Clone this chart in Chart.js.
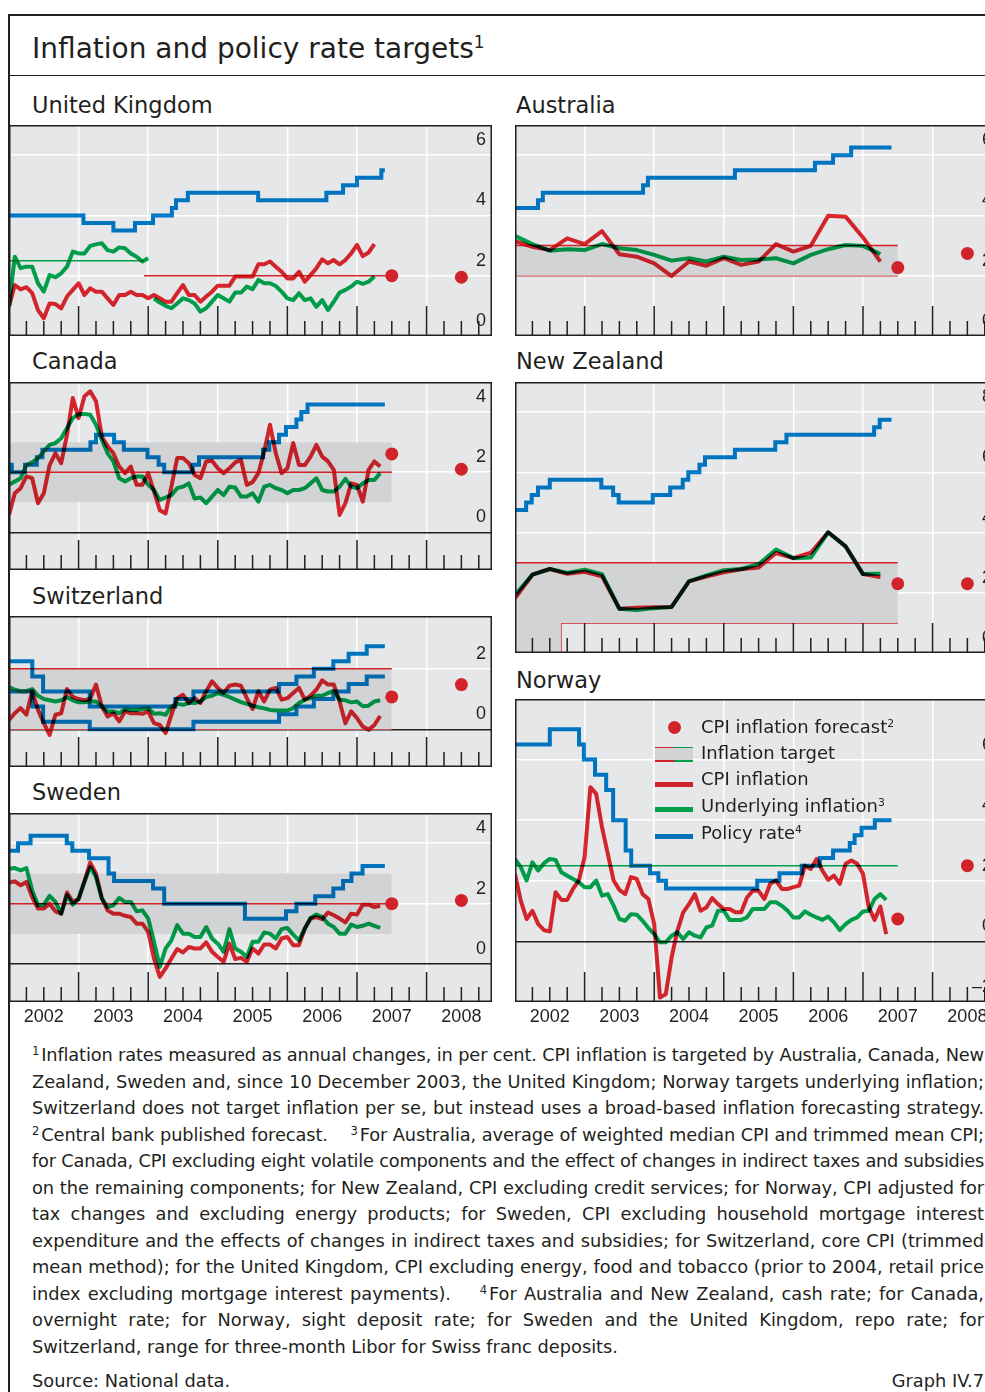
<!DOCTYPE html>
<html>
<head>
<meta charset="utf-8">
<title>Inflation and policy rate targets</title>
<script src="https://cdn.jsdelivr.net/npm/chart.js@4.4.1/dist/chart.umd.min.js"></script>
<style>
  html, body { margin: 0; padding: 0; background: #fff; }
  #page { position: relative; width: 985px; height: 1392px; overflow: hidden; color: #231f20; font-family: "DejaVu Sans", sans-serif; }
  .abs { position: absolute; white-space: nowrap; }
  .rule { position: absolute; background: #231f20; }
  .title { left: 32px; top: 32px; font-size: 28px; line-height: 34px; }
  .ptitle { font-size: 22.5px; line-height: 28px; }
  .panel { position: absolute; width: 483px; }
  sup { font-size: 0.6em; line-height: 0; vertical-align: 0.6em; }
  .leg { font-size: 18px; line-height: 26px; }
  .sw { position: absolute; }
  .fn { position: absolute; left: 32px; width: 952px; font-size: 17.8px; line-height: 26px; white-space: nowrap; text-align: justify; text-align-last: justify; }
  .fn.last { text-align-last: left; }
  .fn sup { font-size: 0.65em; vertical-align: 0.5em; margin-right: 2px; }
</style>
</head>
<body>
<div id="page">
  <div class="rule" style="left:8px;top:14px;width:990px;height:1.5px"></div>
  <div class="rule" style="left:8px;top:14px;width:1.5px;height:1390px"></div>
  <div class="rule" style="left:8px;top:74.5px;width:990px;height:1.5px"></div>
  <div class="abs title">Inflation and policy rate targets<sup>1</sup></div>

  <div class="abs ptitle" style="left:32px;top:91px">United Kingdom</div>
  <div class="abs ptitle" style="left:32px;top:347px">Canada</div>
  <div class="abs ptitle" style="left:32px;top:582px">Switzerland</div>
  <div class="abs ptitle" style="left:32px;top:778px">Sweden</div>
  <div class="abs ptitle" style="left:516px;top:91px">Australia</div>
  <div class="abs ptitle" style="left:516px;top:347px">New Zealand</div>
  <div class="abs ptitle" style="left:516px;top:666px">Norway</div>

  <div class="panel" style="left:9px;top:125px;height:211px"><canvas id="uk"></canvas></div>
  <div class="panel" style="left:9px;top:382px;height:188px"><canvas id="ca"></canvas></div>
  <div class="panel" style="left:9px;top:616px;height:151px"><canvas id="ch"></canvas></div>
  <div class="panel" style="left:9px;top:813px;height:217px"><canvas id="se"></canvas></div>
  <div class="panel" style="left:515px;top:125px;height:211px"><canvas id="au"></canvas></div>
  <div class="panel" style="left:515px;top:382px;height:271px"><canvas id="nz"></canvas></div>
  <div class="panel" style="left:515px;top:699px;height:331px"><canvas id="no"></canvas></div>

  <!-- legend (Norway panel) -->
  <div class="sw" style="left:667.5px;top:720.5px;width:13px;height:13px;border-radius:50%;background:#d2232a"></div>
  <div class="abs leg" style="left:701px;top:714px">CPI inflation forecast<sup>2</sup></div>
  <div class="sw" style="left:655px;top:747px;width:38px;height:14px;background:#d1d3d4"></div>
  <div class="sw" style="left:655px;top:746.5px;width:19px;height:1.5px;background:#d2232a"></div>
  <div class="sw" style="left:674px;top:746.5px;width:19px;height:1.5px;background:#00a04b"></div>
  <div class="sw" style="left:655px;top:760px;width:19px;height:1.5px;background:#d2232a"></div>
  <div class="sw" style="left:674px;top:760px;width:19px;height:1.5px;background:#00a04b"></div>
  <div class="abs leg" style="left:701px;top:740px">Inflation target</div>
  <div class="sw" style="left:655px;top:781.5px;width:38px;height:5px;background:#d2232a"></div>
  <div class="abs leg" style="left:701px;top:766px">CPI inflation</div>
  <div class="sw" style="left:655px;top:807px;width:38px;height:5px;background:#00a04b"></div>
  <div class="abs leg" style="left:701px;top:793px">Underlying inflation<sup>3</sup></div>
  <div class="sw" style="left:655px;top:834px;width:38px;height:5px;background:#0072bc"></div>
  <div class="abs leg" style="left:701px;top:820px">Policy rate<sup>4</sup></div>

  <!-- footnotes -->
  <div class="fn" style="top:1042px"><sup>1</sup>Inflation rates measured as annual changes, in per cent. CPI inflation is targeted by Australia, Canada, New</div>
  <div class="fn" style="top:1069px">Zealand, Sweden and, since 10 December 2003, the United Kingdom; Norway targets underlying inflation;</div>
  <div class="fn" style="top:1095px">Switzerland does not target inflation per se, but instead uses a broad-based inflation forecasting strategy.</div>
  <div class="fn" style="top:1122px"><sup>2</sup>Central bank published forecast.&nbsp;&nbsp;&nbsp;&nbsp;<sup>3</sup>For Australia, average of weighted median CPI and trimmed mean CPI;</div>
  <div class="fn" style="top:1148px">for Canada, CPI excluding eight volatile components and the effect of changes in indirect taxes and subsidies</div>
  <div class="fn" style="top:1175px">on the remaining components; for New Zealand, CPI excluding credit services; for Norway, CPI adjusted for</div>
  <div class="fn" style="top:1201px">tax changes and excluding energy products; for Sweden, CPI excluding household mortgage interest</div>
  <div class="fn" style="top:1228px">expenditure and the effects of changes in indirect taxes and subsidies; for Switzerland, core CPI (trimmed</div>
  <div class="fn" style="top:1254px">mean method); for the United Kingdom, CPI excluding energy, food and tobacco (prior to 2004, retail price</div>
  <div class="fn" style="top:1281px">index excluding mortgage interest payments).&nbsp;&nbsp;&nbsp;&nbsp;<sup>4</sup>For Australia and New Zealand, cash rate; for Canada,</div>
  <div class="fn" style="top:1307px">overnight rate; for Norway, sight deposit rate; for Sweden and the United Kingdom, repo rate; for</div>
  <div class="fn last" style="top:1334px">Switzerland, range for three-month Libor for Swiss franc deposits.</div>
  <div class="fn last" style="top:1368px">Source: National data.</div>
  <div class="abs" style="right:1px;top:1368px;font-size:17.8px;line-height:26px">Graph IV.7</div>
</div>

<script>
// ---------- data ----------
var forecastDates = [2007.5, 2008.5];
var targetStart = 2002, targetEnd = 2007.5;

// United Kingdom
var ukRateDates = [2002, 2003.07, 2003.5, 2003.81, 2004.07, 2004.34, 2004.40, 2004.57, 2005.58, 2006.56, 2006.8, 2007.0, 2007.35, 2007.4];
var ukRates = [4.0, 3.75, 3.5, 3.75, 4.0, 4.25, 4.5, 4.75, 4.5, 4.75, 5.0, 5.25, 5.5, 5.5];
var ukCpi = [0.97, 1.69, 1.55, 1.62, 1.42, 0.86, 0.59, 1.08, 1.06, 0.92, 1.31, 1.53, 1.75, 1.36, 1.58, 1.47, 1.47, 1.25, 1.03, 1.36,
  1.36, 1.47, 1.36, 1.36, 1.25, 1.36, 1.25, 1.14, 1.14, 1.42, 1.69, 1.36, 1.36, 1.14, 1.31, 1.47, 1.67, 1.67, 1.67, 1.97,
  1.97, 1.97, 1.97, 2.38, 2.38, 2.47, 2.30, 2.13, 1.91, 1.91, 2.13, 1.80, 2.02, 2.25, 2.54, 2.41, 2.52, 2.38, 2.52, 2.74,
  3.02, 2.65, 2.77, 3.05];
var ukRpix = [1.0, 2.63, 2.25, 2.30, 2.30, 1.75, 1.47, 2.02, 1.95, 2.08, 2.30, 2.80, 2.74, 2.74, 2.99, 3.04, 3.08, 2.85, 2.80, 2.94,
  2.91, 2.74, 2.63, 2.47, 2.58];
var ukCoreStart = 2004 + 1 / 12;
var ukCore = [1.25, 1.11, 1.0, 0.92, 1.08, 1.25, 1.19, 1.08, 0.81, 0.92, 1.14, 1.36, 1.25, 1.14, 1.44, 1.44, 1.64, 1.55, 1.86, 1.75,
  1.75, 1.66, 1.47, 1.25, 1.19, 1.42, 1.19, 1.25, 0.97, 1.19, 0.86, 1.14, 1.44, 1.53, 1.64, 1.80, 1.73, 1.80, 1.97];
var ukTargetSwitch = 2003.94;
var ukForecast = [2.0, 1.95];
var ukTicks = [0, 2, 4, 6];

// Canada
var caRateDates = [2002, 2002.04, 2002.23, 2002.40, 2002.48, 2003.17, 2003.25, 2003.51, 2003.65, 2003.99, 2004.15, 2004.23,
  2004.64, 2004.73, 2005.65, 2005.74, 2005.88, 2005.98, 2006.13, 2006.20, 2006.29, 2007.40];
var caRates = [2.25, 2.0, 2.25, 2.5, 2.75, 3.0, 3.25, 3.0, 2.75, 2.5, 2.25, 2.0, 2.25, 2.5, 2.75, 3.0, 3.25, 3.5, 3.75, 4.0, 4.25, 4.25];
var caCpi = [0.58, 1.30, 1.47, 1.86, 1.80, 0.97, 1.30, 2.24, 2.63, 2.30, 3.24, 4.47, 3.80, 4.52, 4.69, 4.36, 3.19, 2.86, 2.63, 2.19,
  1.97, 2.19, 1.58, 1.58, 1.97, 1.36, 0.74, 0.63, 1.52, 2.47, 2.47, 2.30, 1.91, 1.80, 2.36, 2.38, 2.13, 1.97, 2.13, 2.33,
  2.41, 1.58, 1.67, 1.97, 2.69, 3.58, 2.63, 1.97, 2.13, 2.97, 2.24, 2.24, 2.52, 2.91, 2.52, 2.36, 2.08, 0.58, 0.97, 1.63,
  1.58, 1.02, 2.08, 2.36, 2.19];
var caCore = [1.58, 1.69, 1.80, 2.24, 2.33, 2.47, 2.69, 2.91, 2.97, 3.13, 3.47, 3.80, 3.93, 3.94, 3.91, 3.58, 3.08, 2.63, 2.36, 1.80,
  1.69, 1.80, 1.86, 1.86, 1.58, 1.41, 1.08, 1.16, 1.24, 1.47, 1.52, 1.63, 1.13, 1.16, 0.97, 1.19, 1.41, 1.24, 1.52, 1.49,
  1.19, 1.19, 1.30, 1.02, 1.52, 1.58, 1.47, 1.41, 1.30, 1.41, 1.41, 1.47, 1.63, 1.80, 1.41, 1.36, 1.36, 1.52, 1.78, 1.52,
  1.47, 1.63, 1.74, 1.74, 1.97];
var caForecast = [2.61, 2.1];
var caTicks = [0, 2, 4];

// Switzerland
var chRateDates = [2002, 2002.335, 2002.49, 2003.16, 2004.39, 2004.65, 2005.88, 2006.13, 2006.38, 2006.66, 2006.88, 2007.14, 2007.40];
var chUpper = [2.25, 1.75, 1.25, 0.75, 1.0, 1.25, 1.5, 1.75, 2.0, 2.25, 2.5, 2.75, 2.75];
var chLower = [1.25, 0.75, 0.25, 0.0, 0.0, 0.25, 0.5, 0.75, 1.0, 1.25, 1.5, 1.75, 1.75];
var chCpi = [0.31, 0.53, 0.70, 0.48, 1.26, 0.64, 0.2, -0.19, 0.48, 0.53, 1.33, 1.07, 1.0, 0.96, 1.0, 1.48, 0.76, 0.42, 0.53, 0.26,
  0.59, 0.53, 0.53, 0.51, 0.59, 0.2, 0.14, -0.13, 0.48, 1.03, 1.14, 0.87, 1.03, 0.87, 1.26, 1.59, 1.37, 1.2, 1.44, 1.48,
  1.44, 1.03, 0.67, 1.26, 0.92, 1.31, 1.37, 0.98, 1.03, 1.2, 1.37, 0.98, 1.11, 1.31, 1.62, 1.48, 1.48, 0.92, 0.2, 0.59,
  0.37, 0.09, -0.02, 0.14, 0.44];
var chCore = [1.4, 1.31, 1.26, 1.26, 1.33, 1.11, 1.0, 0.96, 0.92, 0.96, 1.07, 0.96, 0.89, 0.89, 0.92, 0.92, 0.76, 0.59, 0.59, 0.53,
  0.67, 0.64, 0.64, 0.67, 0.70, 0.51, 0.53, 0.48, 0.76, 0.84, 0.81, 0.87, 0.87, 0.92, 1.07, 1.11, 1.2, 1.14, 1.07, 0.98,
  0.9, 0.84, 0.78, 0.73, 0.69, 0.64, 0.62, 0.62, 0.62, 0.70, 0.87, 0.98, 1.03, 1.11, 1.11, 1.2, 1.26, 0.98, 0.96, 0.89,
  0.92, 0.76, 0.78, 0.92, 0.96];
var chForecast = [1.07, 1.48];
var chTicks = [0, 2];

// Sweden
var seRateDates = [2002, 2002.13, 2002.31, 2002.83, 2002.91, 2003.15, 2003.43, 2003.51, 2004.07, 2004.23, 2005.39, 2005.98,
  2006.13, 2006.40, 2006.66, 2006.80, 2006.92, 2007.08, 2007.40];
var seRates = [3.75, 4.0, 4.25, 4.0, 3.75, 3.5, 3.0, 2.75, 2.5, 2.0, 1.5, 1.75, 2.0, 2.25, 2.5, 2.75, 3.0, 3.25, 3.25];
var seCpi = [2.70, 2.74, 2.61, 2.72, 2.22, 1.84, 1.84, 2.0, 1.75, 1.67, 2.37, 2.06, 2.15, 2.74, 3.36, 2.99, 2.19, 1.78, 1.67, 1.67,
  1.60, 1.56, 1.34, 1.34, 1.07, 0.19, -0.42, -0.14, 0.19, 0.5, 0.39, 0.57, 0.52, 0.52, 0.72, 0.41, 0.24, 0.08, 0.68, 0.17,
  0.21, 0.08, 0.52, 0.35, 0.65, 0.65, 0.52, 0.85, 0.9, 0.63, 0.63, 1.18, 1.51, 1.56, 1.49, 1.71, 1.62, 1.51, 1.38, 1.67,
  1.64, 1.97, 1.97, 1.89, 1.93];
var seCore = [3.16, 3.18, 3.10, 3.18, 2.44, 1.95, 1.97, 2.26, 2.06, 1.67, 2.28, 1.97, 2.17, 2.72, 3.21, 2.88, 2.17, 1.89, 1.95, 2.19,
  2.06, 2.06, 1.75, 1.78, 1.51, 0.74, -0.09, 0.52, 0.79, 1.29, 1.01, 1.01, 0.9, 0.9, 1.23, 0.85, 0.68, 0.41, 1.16, 0.52,
  0.41, 0.24, 0.74, 0.74, 1.05, 1.01, 0.85, 1.16, 1.2, 0.98, 0.79, 1.18, 1.53, 1.64, 1.56, 1.34, 1.23, 1.01, 1.01, 1.31,
  1.23, 1.27, 1.34, 1.27, 1.2];
var seForecast = [2.0, 2.11];
var seTicks = [0, 2, 4];

// Australia (quarterly)
var auRateDates = [2002, 2002.33, 2002.40, 2003.84, 2003.91, 2005.16, 2006.31, 2006.57, 2006.83, 2007.41];
var auRates = [4.25, 4.5, 4.75, 5.0, 5.25, 5.5, 5.75, 6.0, 6.25, 6.25];
var auCpi = [3.15, 2.96, 2.85, 3.24, 3.05, 3.48, 2.71, 2.63, 2.41, 1.99, 2.47, 2.33, 2.58, 2.36, 2.47, 3.05, 2.80, 2.99, 3.99, 3.96, 3.27, 2.47];
var auCore = [3.32, 3.05, 2.83, 2.88, 2.85, 3.05, 2.91, 2.85, 2.69, 2.50, 2.58, 2.47, 2.63, 2.52, 2.54, 2.58, 2.41, 2.69, 2.88, 3.02, 2.99, 2.72];
var auForecast = [2.27, 2.74];
var auTicks = [0, 2, 4, 6];

// New Zealand (quarterly)
var nzRateDates = [2002, 2002.16, 2002.24, 2002.33, 2002.50, 2003.24, 2003.41, 2003.49, 2003.98, 2004.23, 2004.41, 2004.49,
  2004.65, 2004.73, 2005.16, 2005.74, 2005.90, 2007.16, 2007.24, 2007.41];
var nzRates = [4.75, 5.0, 5.25, 5.5, 5.75, 5.5, 5.25, 5.0, 5.25, 5.5, 5.75, 6.0, 6.25, 6.5, 6.75, 7.0, 7.25, 7.5, 7.75, 7.75];
var nzCpi = [1.82, 2.60, 2.79, 2.63, 2.70, 2.55, 1.47, 1.50, 1.52, 1.53, 2.38, 2.54, 2.68, 2.78, 2.84, 3.32, 3.15, 3.33, 4.01, 3.54, 2.62, 2.52];
var nzCore = [1.93, 2.60, 2.79, 2.66, 2.77, 2.62, 1.47, 1.43, 1.49, 1.53, 2.38, 2.58, 2.75, 2.79, 2.95, 3.44, 3.15, 3.17, 4.01, 3.54, 2.62, 2.63];
var nzBandDates = [2002, 2002.66, 2007.5];
var nzBandLow = [0, 1, 1];
var nzBandHigh = [3, 3, 3];
var nzForecast = [2.30, 2.30];
var nzTicks = [0, 2, 4, 6, 8];

// Norway
var noRateDates = [2002, 2002.50, 2002.92, 2002.99, 2003.15, 2003.31, 2003.41, 2003.59, 2003.67, 2003.94, 2004.06, 2004.17,
  2005.48, 2005.80, 2006.12, 2006.38, 2006.57, 2006.81, 2006.88, 2006.98, 2007.17, 2007.41];
var noRates = [6.5, 7.0, 6.5, 6.0, 5.5, 5.0, 4.0, 3.0, 2.5, 2.25, 2.0, 1.75, 2.0, 2.25, 2.5, 2.75, 3.0, 3.25, 3.5, 3.75, 4.0, 4.0];
var noCpi = [2.23, 1.34, 0.74, 1.01, 0.57, 0.37, 0.33, 1.62, 1.37, 1.37, 1.73, 2.01, 2.78, 5.09, 4.87, 3.77, 2.89, 2.01, 1.70, 1.56,
  2.12, 2.06, 1.56, 1.40, 0.57, -1.85, -1.74, -0.53, 0.35, 0.96, 1.23, 1.56, 1.01, 1.12, 1.43, 1.23, 1.07, 1.07, 0.96, 0.96,
  1.45, 1.67, 1.67, 1.40, 1.90, 2.01, 1.73, 1.73, 1.79, 1.84, 2.50, 2.39, 2.72, 2.34, 2.03, 2.17, 1.90, 2.56, 2.67, 2.56,
  2.23, 1.12, 0.71, 1.15, 0.24];
var noCore = [2.72, 2.45, 2.01, 2.61, 2.34, 2.58, 2.72, 2.69, 2.28, 2.17, 2.06, 1.95, 1.79, 1.79, 2.01, 1.51, 1.56, 1.18, 0.74, 0.68,
  0.90, 0.88, 0.68, 0.44, 0.24, -0.03, -0.03, 0.19, 0.30, 0.08, 0.30, 0.19, 0.13, 0.46, 0.52, 1.01, 1.01, 0.71, 0.71, 0.71,
  0.79, 1.07, 1.07, 1.07, 1.29, 1.29, 1.18, 1.01, 0.79, 0.79, 0.99, 0.88, 0.79, 0.71, 0.82, 0.63, 0.37, 0.57, 0.71, 0.79,
  0.99, 1.01, 1.40, 1.56, 1.37];
var noForecast = [0.74, 2.5];
var noTicks = [-2, 0, 2, 4, 6];

// quarter ticks on the time axis, 2002 to 2008
var xTickValues = [];
for (var q = 0; q < 28; q++) xTickValues.push(2002 + q / 4);

// ---------- styles ----------
var INK = '#231f20', BG = '#e6e7e8', BAND = '#d1d3d4';
var RED = '#e9272f', GREEN = '#00ac50', BLUE = '#007fd1';   // lines are multiplied onto the grey
var RED_T = '#d2232a', GREEN_T = '#00a04b', DOT = '#d2232a';
var NUM_FONT = {family: 'Liberation Sans, Arial, sans-serif', size: 18};

Chart.defaults.elements.point.radius = 0;

function monthly(start, vals) { return vals.map(function (v, i) { return {x: start + i / 12, y: v}; }); }
function quarterly(start, vals) { return vals.map(function (v, i) { return {x: start + i / 4, y: v}; }); }
function pairs(xs, ys) { return xs.map(function (x, i) { return {x: x, y: ys[i]}; }); }
function flat(x0, x1, v) { return [{x: x0, y: v}, {x: x1, y: v}]; }

function rateSet(data) {
  return {data: data, borderColor: BLUE, borderWidth: 4, stepped: true, blend: true, order: 1, borderJoinStyle: 'miter'};
}
function lineSet(data, color) {
  return {data: data, borderColor: color, borderWidth: 4, blend: true, order: 2, borderJoinStyle: 'round'};
}
function targetSet(data, color) {
  return {data: data, borderColor: color, borderWidth: 1.5, order: 5};
}
function bandSets(hi, lo, edge, steppedLow) {
  return [
    {data: hi, borderColor: edge, borderWidth: 1.5, fill: '+1', backgroundColor: BAND, order: 6},
    {data: lo, borderColor: edge, borderWidth: 1.5, stepped: !!steppedLow, order: 6}
  ];
}
function dotSet(vals) {
  return {data: pairs(forecastDates, vals), showLine: false, pointRadius: 6.5, pointBackgroundColor: DOT, pointBorderWidth: 0, order: 0};
}

var panelPlugin = {
  id: 'panel',
  beforeDraw: function (chart) {
    var a = chart.chartArea, ctx = chart.ctx;
    ctx.save();
    ctx.fillStyle = BG;
    ctx.fillRect(a.left, a.top, a.width, a.height);
    ctx.restore();
  },
  beforeDatasetDraw: function (chart, args) {
    if (chart.data.datasets[args.index].blend) {
      chart.ctx.save();
      chart.ctx.globalCompositeOperation = 'multiply';
    }
  },
  afterDatasetDraw: function (chart, args) {
    if (chart.data.datasets[args.index].blend) chart.ctx.restore();
  },
  afterDraw: function (chart) {
    var a = chart.chartArea, ctx = chart.ctx, xs = chart.scales.x;
    ctx.save();
    ctx.strokeStyle = INK;
    ctx.lineWidth = 1.5;
    ctx.beginPath();
    xTickValues.forEach(function (v) {
      if (v <= 2002) return;
      var px = xs.getPixelForValue(v);
      var len = v % 1 === 0 ? 30 : 15;
      ctx.moveTo(px, a.bottom);
      ctx.lineTo(px, a.bottom - len);
    });
    ctx.stroke();
    ctx.strokeRect(a.left + 0.75, a.top + 0.75, a.width - 1.5, a.height - 1.5);
    ctx.restore();
  }
};

function makePanel(id, p) {
  return new Chart(document.getElementById(id), {
    type: 'line',
    data: {datasets: p.datasets},
    options: {
      responsive: true,
      maintainAspectRatio: false,
      animation: false,
      events: [],
      layout: {padding: 0, autoPadding: false},
      plugins: {legend: {display: false}, tooltip: {enabled: false}},
      scales: {
        x: {
          type: 'linear', min: 2002, max: 2008.94,
          afterBuildTicks: function (s) { s.ticks = xTickValues.map(function (v) { return {value: v}; }); },
          afterFit: function (s) { s.height = p.years ? 28 : 0; s.paddingLeft = 0; s.paddingRight = 0; },
          border: {display: false},
          grid: {
            drawTicks: false, lineWidth: 1.5,
            color: function (c) { return c.tick && Number.isInteger(c.tick.value) ? '#ffffff' : 'rgba(0,0,0,0)'; }
          },
          ticks: {
            display: !!p.years, autoSkip: false, maxRotation: 0, padding: 4, color: INK, font: NUM_FONT,
            callback: function (v) { return v % 1 === 0.5 ? String(Math.floor(v)) : ''; }
          }
        },
        y: {
          type: 'linear', position: 'right', min: p.min, max: p.max,
          afterBuildTicks: function (s) { s.ticks = p.ticks.map(function (v) { return {value: v}; }); },
          afterFit: function (s) { s.width = 0; s.paddingTop = 0; s.paddingBottom = 0; },
          border: {display: false},
          grid: {
            drawTicks: false, lineWidth: 1.5,
            color: function (c) { return c.tick && c.tick.value === 0 ? INK : '#ffffff'; }
          },
          ticks: {
            mirror: true, padding: -6, labelOffset: -15, color: INK, font: NUM_FONT,
            callback: function (v) { return v < 0 ? '\u2013' + Math.abs(v) : String(v); }
          }
        }
      }
    },
    plugins: [panelPlugin]
  });
}

// ---------- panels ----------
makePanel('uk', {
  min: 0, max: 7, ticks: ukTicks,
  datasets: [
    targetSet(flat(targetStart, ukTargetSwitch, 2.5), GREEN_T),
    targetSet(flat(ukTargetSwitch, targetEnd, 2.0), RED_T),
    lineSet(monthly(2002, ukCpi), RED),
    lineSet(monthly(2002, ukRpix), GREEN),
    lineSet(monthly(ukCoreStart, ukCore), GREEN),
    rateSet(pairs(ukRateDates, ukRates)),
    dotSet(ukForecast)
  ]
});

makePanel('ca', {
  min: -1.25, max: 5, ticks: caTicks,
  datasets: bandSets(flat(targetStart, targetEnd, 3), flat(targetStart, targetEnd, 1), 'rgba(0,0,0,0)').concat([
    targetSet(flat(targetStart, targetEnd, 2), RED_T),
    lineSet(monthly(2002, caCpi), RED),
    lineSet(monthly(2002, caCore), GREEN),
    rateSet(pairs(caRateDates, caRates)),
    dotSet(caForecast)
  ])
});

makePanel('ch', {
  min: -1.25, max: 3.75, ticks: chTicks,
  datasets: bandSets(flat(targetStart, targetEnd, 2), flat(targetStart, targetEnd, 0), RED_T).concat([
    lineSet(monthly(2002, chCpi), RED),
    lineSet(monthly(2002, chCore), GREEN),
    rateSet(pairs(chRateDates, chUpper)),
    rateSet(pairs(chRateDates, chLower)),
    dotSet(chForecast)
  ])
});

makePanel('se', {
  min: -1.25, max: 5, ticks: seTicks, years: true,
  datasets: bandSets(flat(targetStart, targetEnd, 3), flat(targetStart, targetEnd, 1), 'rgba(0,0,0,0)').concat([
    targetSet(flat(targetStart, targetEnd, 2), RED_T),
    lineSet(monthly(2002, seCpi), RED),
    lineSet(monthly(2002, seCore), GREEN),
    rateSet(pairs(seRateDates, seRates)),
    dotSet(seForecast)
  ])
});

makePanel('au', {
  min: 0, max: 7, ticks: auTicks,
  datasets: bandSets(flat(targetStart, targetEnd, 3), flat(targetStart, targetEnd, 2), RED_T).concat([
    lineSet(quarterly(2002, auCpi), RED),
    lineSet(quarterly(2002, auCore), GREEN),
    rateSet(pairs(auRateDates, auRates)),
    dotSet(auForecast)
  ])
});

makePanel('nz', {
  min: 0, max: 9, ticks: nzTicks,
  datasets: bandSets(pairs(nzBandDates, nzBandHigh), pairs(nzBandDates, nzBandLow), RED_T, true).concat([
    lineSet(quarterly(2002, nzCpi), RED),
    lineSet(quarterly(2002, nzCore), GREEN),
    rateSet(pairs(nzRateDates, nzRates)),
    dotSet(nzForecast)
  ])
});

makePanel('no', {
  min: -2, max: 8, ticks: noTicks, years: true,
  datasets: [
    targetSet(flat(targetStart, targetEnd, 2.5), GREEN_T),
    lineSet(monthly(2002, noCpi), RED),
    lineSet(monthly(2002, noCore), GREEN),
    rateSet(pairs(noRateDates, noRates)),
    dotSet(noForecast)
  ]
});

// keep every justified footnote line on a single line by tightening letter spacing if needed
document.querySelectorAll('.fn').forEach(function (el) {
  var ls = 0;
  while (el.scrollWidth > el.clientWidth + 1 && ls > -1.5) {
    ls -= 0.05;
    el.style.letterSpacing = ls + 'px';
  }
});
</script>
</body>
</html>
